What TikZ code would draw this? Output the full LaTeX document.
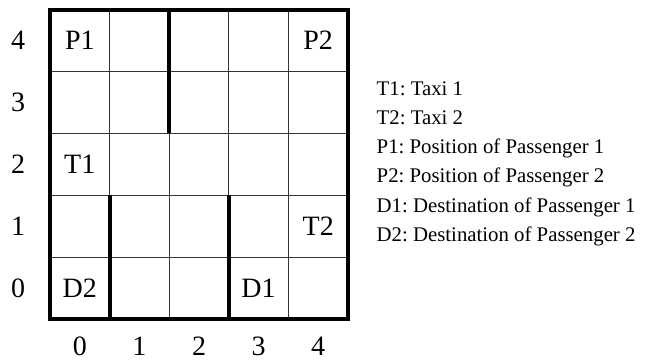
\documentclass[tikz,border=0pt]{standalone}
\usepackage{fontspec}
\setmainfont{Liberation Serif}
\frenchspacing
\begin{document}
\begin{tikzpicture}[x=1pt,y=-1pt,
  gridline/.style={draw=black!80, line width=1.1pt},
  border/.style={draw=black, line width=4pt, line cap=rect},
  wall/.style={draw=black, line width=4pt},
  celltext/.style={font=\fontsize{28}{32}\selectfont, inner sep=0pt},
  axistext/.style={font=\fontsize{28}{32}\selectfont, inner sep=0pt},
  legendtext/.style={font=\fontsize{20.8}{24}\selectfont, anchor=base west, inner sep=0pt}]
\useasboundingbox (0,0) rectangle (645,360);
% grid geometry: left 50, top 9.5, cell 59.6 x 61.9
\def\gl{50}\def\gt{9.5}\def\cw{59.6}\def\ch{61.9}
% thin interior lines
\foreach \i in {1,...,4} {
  \draw[gridline] ({\gl+\i*\cw},\gt) -- ({\gl+\i*\cw},{\gt+5*\ch});
  \draw[gridline] (\gl,{\gt+\i*\ch}) -- ({\gl+5*\cw},{\gt+\i*\ch});
}
% outer border
\draw[border] (\gl,\gt) rectangle ({\gl+5*\cw},{\gt+5*\ch});
% walls
\draw[wall] ({\gl+2*\cw},\gt) -- ({\gl+2*\cw},{\gt+2*\ch});
\draw[wall] ({\gl+1*\cw},{\gt+3*\ch}) -- ({\gl+1*\cw},{\gt+5*\ch});
\draw[wall] ({\gl+3*\cw},{\gt+3*\ch}) -- ({\gl+3*\cw},{\gt+5*\ch});
% cell contents
\node[celltext] (p1) at ({\gl+0.5*\cw},{\gt+0.5*\ch}) {P1};
\node[celltext] (p2) at ({\gl+4.5*\cw},{\gt+0.5*\ch}) {P2};
\node[celltext] (t1) at ({\gl+0.5*\cw},{\gt+2.5*\ch}) {T1};
\node[celltext] (t2) at ({\gl+4.5*\cw},{\gt+3.5*\ch}) {T2};
\node[celltext] (d2) at ({\gl+0.5*\cw},{\gt+4.5*\ch}) {D2};
\node[celltext] (d1) at ({\gl+3.5*\cw},{\gt+4.5*\ch}) {D1};
% axis numbers
\foreach \r in {0,...,4} {
  \node[axistext] (row\r) at (18,{\gt+(4.5-\r)*\ch}) {\r};
  \node[axistext] (col\r) at ({\gl+(\r+0.5)*\cw},346) {\r};
}
% legend
\node[legendtext] (lg1) at (376.5,95.0) {T1: Taxi 1};
\node[legendtext] (lg2) at (376.5,124.3) {T2: Taxi 2};
\node[legendtext] (lg3) at (376.5,153.6) {P1: Position of Passenger 1};
\node[legendtext] (lg4) at (376.5,182.9) {P2: Position of Passenger 2};
\node[legendtext] (lg5) at (376.5,212.2) {D1: Destination of Passenger 1};
\node[legendtext] (lg6) at (376.5,241.5) {D2: Destination of Passenger 2};
\end{tikzpicture}
\end{document}
